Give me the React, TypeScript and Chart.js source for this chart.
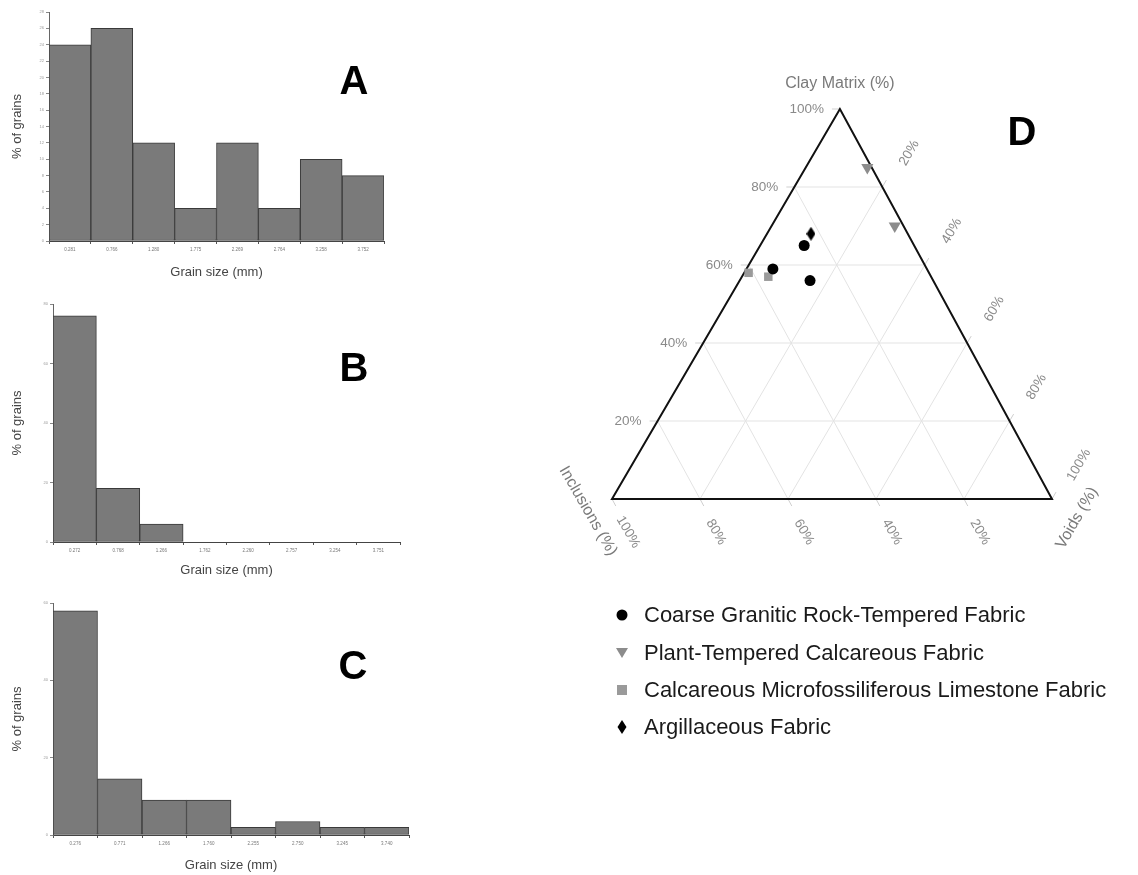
import React, { useEffect, useRef } from "react";
import { Chart, registerables } from "chart.js";

Chart.register(...registerables);
Chart.defaults.font.family = "'Liberation Sans', Arial, Helvetica, sans-serif";

// ---------- Histogram data ----------
const sizeLabelsA = ["0.281", "0.766", "1.280", "1.775", "2.269", "2.764", "3.258", "3.752"];
const percentA = [24, 26, 12, 4, 12, 4, 10, 8];

const sizeLabelsB = ["0.272", "0.768", "1.266", "1.762", "2.260", "2.757", "3.254", "3.751"];
const percentB = [76, 18, 6, 0, 0, 0, 0, 0];

const sizeLabelsC = ["0.276", "0.771", "1.266", "1.760", "2.255", "2.750", "3.245", "3.740"];
const percentC = [58, 14.5, 9, 9, 2, 3.5, 2, 2];

// ---------- Ternary data (Clay Matrix %, Inclusions %, Voids %) ----------
const graniticClay = [65, 59, 56];
const graniticInclusions = [25, 35, 28];
const graniticVoids = [10, 6, 16];

const plantClay = [85, 70];
const plantInclusions = [1, 2];
const plantVoids = [14, 28];

const calcareousClay = [57, 58];
const calcareousInclusions = [37, 41];
const calcareousVoids = [6, 1];

const argillaceousClay = [68];
const argillaceousInclusions = [22];
const argillaceousVoids = [10];

const gridLevels = [20, 40, 60, 80];
const tickLevels = [20, 40, 60, 80, 100];

const legendNames = [
  "Coarse Granitic Rock-Tempered Fabric",
  "Plant-Tempered Calcareous Fabric",
  "Calcareous Microfossiliferous Limestone Fabric",
  "Argillaceous Fabric",
];

const SKEW = 0.518; // horizontal position of the apex along the base

function toCart(c: number[], i: number[], v: number[]) {
  return c.map((cv, k) => {
    const s = cv + i[k] + v[k];
    const cc = (cv / s) * 100;
    const vv = (v[k] / s) * 100;
    return { x: vv + SKEW * cc, y: cc };
  });
}

function makeDiamond(w: number, h: number, color: string) {
  const cv = document.createElement("canvas");
  cv.width = w;
  cv.height = h;
  const g = cv.getContext("2d")!;
  g.fillStyle = color;
  g.beginPath();
  g.moveTo(w / 2, 0);
  g.lineTo(w, h / 2);
  g.lineTo(w / 2, h);
  g.lineTo(0, h / 2);
  g.closePath();
  g.fill();
  return cv;
}

type HistProps = {
  labels: string[];
  values: number[];
  yMax: number;
  yStep: number;
  letter: string;
  letterX: number;
  letterY: number;
  left: number;
  top: number;
  width: number;
  height: number;
  pad: { left: number; top: number; right: number; bottom: number };
  yAxisW: number;
  xAxisH: number;
};

function Histogram(p: HistProps) {
  const ref = useRef<HTMLCanvasElement>(null);
  useEffect(() => {
    const letterPlugin = {
      id: "letter",
      afterDraw(chart: any) {
        const ctx = chart.ctx;
        ctx.save();
        ctx.fillStyle = "#000";
        ctx.font = "bold 40px 'Liberation Sans', Arial, sans-serif";
        ctx.textAlign = "center";
        ctx.textBaseline = "middle";
        ctx.fillText(p.letter, p.letterX, p.letterY);
        ctx.restore();
      },
    };
    const chart = new Chart(ref.current!, {
      type: "bar",
      data: {
        labels: p.labels,
        datasets: [
          {
            data: p.values,
            backgroundColor: "#7a7a7a",
            borderColor: "#3a3a3a",
            borderWidth: 1,
            borderSkipped: false,
            categoryPercentage: 1,
            barPercentage: 1,
          },
        ],
      },
      options: {
        responsive: false,
        animation: false,
        layout: { padding: p.pad },
        plugins: { legend: { display: false }, tooltip: { enabled: false } },
        scales: {
          x: {
            grid: { display: true, drawOnChartArea: false, drawTicks: true, tickLength: 3, color: "#555", offset: true },
            border: { display: true, color: "#444", width: 1 },
            ticks: { font: { size: 4.5 }, color: "#777", padding: 3, maxRotation: 0, autoSkip: false },
            title: { display: true, text: "Grain size (mm)", font: { size: 13 }, color: "#444", padding: 0 },
            afterFit: (s: any) => {
              s.height = p.xAxisH;
            },
          },
          y: {
            min: 0,
            max: p.yMax,
            ticks: { stepSize: p.yStep, font: { size: 4 }, color: "#999", padding: 2 },
            grid: { drawOnChartArea: false, tickLength: 3, color: "#888" },
            border: { display: true, color: "#666", width: 1 },
            title: { display: true, text: "% of grains", font: { size: 13 }, color: "#444", padding: 0 },
            afterFit: (s: any) => {
              s.width = p.yAxisW;
            },
          },
        },
      },
      plugins: [letterPlugin],
    } as any);
    return () => chart.destroy();
  }, []);
  return (
    <canvas
      ref={ref}
      width={p.width}
      height={p.height}
      style={{ position: "absolute", left: p.left, top: p.top }}
    />
  );
}

function Ternary() {
  const ref = useRef<HTMLCanvasElement>(null);
  useEffect(() => {
    const diamondImg = makeDiamond(9, 14, "#000");
    const ternaryPlugin = {
      id: "ternary",
      beforeDatasetsDraw(chart: any) {
        const { ctx } = chart;
        const xs = chart.scales.x;
        const ys = chart.scales.y;
        const P = (c: number, v: number) => [xs.getPixelForValue(v + SKEW * c), ys.getPixelForValue(c)];
        const line = (a: number[], b: number[]) => {
          ctx.beginPath();
          ctx.moveTo(a[0], a[1]);
          ctx.lineTo(b[0], b[1]);
          ctx.stroke();
        };
        const BL = P(0, 0);
        const BR = P(0, 100);
        const T = P(100, 0);
        const norm = (d: number[]) => {
          const l = Math.hypot(d[0], d[1]);
          return [d[0] / l, d[1] / l];
        };
        const Ldir = norm([T[0] - BL[0], T[1] - BL[1]]);
        const Rdir = norm([T[0] - BR[0], T[1] - BR[1]]);

        ctx.save();
        ctx.strokeStyle = "#e3e3e3";
        ctx.lineWidth = 1;
        for (const t of gridLevels) {
          line(P(t, 0), P(t, 100 - t));
          line(P(0, 100 - t), P(100 - t, 0));
          line(P(0, t), P(100 - t, t));
        }
        // tick extensions
        ctx.strokeStyle = "#cfcfcf";
        const ext = 8;
        for (const t of tickLevels) {
          const a = P(t, 0);
          line(a, [a[0] - ext, a[1]]);
          const b = P(0, 100 - t);
          line(b, [b[0] - Rdir[0] * ext, b[1] - Rdir[1] * ext]);
          const r = P(100 - t, t);
          line(r, [r[0] + Ldir[0] * ext, r[1] + Ldir[1] * ext]);
        }
        // outline
        ctx.strokeStyle = "#111";
        ctx.lineWidth = 2;
        ctx.beginPath();
        ctx.moveTo(BL[0], BL[1]);
        ctx.lineTo(BR[0], BR[1]);
        ctx.lineTo(T[0], T[1]);
        ctx.closePath();
        ctx.stroke();

        // tick labels
        ctx.fillStyle = "#8a8a8a";
        ctx.font = "13.5px 'Liberation Sans', Arial, sans-serif";
        ctx.textBaseline = "middle";
        for (const t of tickLevels) {
          const a = P(t, 0);
          ctx.textAlign = "right";
          ctx.fillText(t + "%", a[0] - 16, a[1]);
          ctx.textAlign = "center";
          const b = P(0, 100 - t);
          ctx.save();
          ctx.translate(b[0] + 16, b[1] + 33);
          ctx.rotate(Math.PI / 3);
          ctx.fillText(t + "%", 0, 0);
          ctx.restore();
          const r = P(100 - t, t);
          ctx.save();
          ctx.translate(r[0] + 27, r[1] - 34);
          ctx.rotate(-Math.PI / 3);
          ctx.fillText(t + "%", 0, 0);
          ctx.restore();
        }
        // axis names
        ctx.fillStyle = "#7a7a7a";
        ctx.font = "16px 'Liberation Sans', Arial, sans-serif";
        ctx.textAlign = "center";
        ctx.fillText("Clay Matrix (%)", T[0], T[1] - 25);
        ctx.save();
        ctx.translate(BL[0] - 24, BL[1] + 12);
        ctx.rotate(Math.PI / 3);
        ctx.fillText("Inclusions (%)", 0, 0);
        ctx.restore();
        ctx.save();
        ctx.translate(BR[0] + 25, BR[1] + 19);
        ctx.rotate(-Math.PI / 3);
        ctx.fillText("Voids (%)", 0, 0);
        ctx.restore();

        // letter D
        ctx.fillStyle = "#000";
        ctx.font = "bold 40px 'Liberation Sans', Arial, sans-serif";
        ctx.fillText("D", T[0] + 182, T[1] + 25);
        ctx.restore();
      },
      afterDraw(chart: any) {
        const { ctx, chartArea } = chart;
        const mx = chartArea.left + 10;
        const tx = chartArea.left + 32;
        const rows = [116, 154, 191, 228].map((d) => chartArea.bottom + d);
        ctx.save();
        // circle
        ctx.fillStyle = "#000";
        ctx.beginPath();
        ctx.arc(mx, rows[0], 5.5, 0, Math.PI * 2);
        ctx.fill();
        // down triangle
        ctx.fillStyle = "#8c8c8c";
        ctx.beginPath();
        ctx.moveTo(mx - 6, rows[1] - 5);
        ctx.lineTo(mx + 6, rows[1] - 5);
        ctx.lineTo(mx, rows[1] + 5);
        ctx.closePath();
        ctx.fill();
        // square
        ctx.fillStyle = "#9a9a9a";
        ctx.fillRect(mx - 5, rows[2] - 5, 10, 10);
        // diamond
        ctx.fillStyle = "#000";
        ctx.beginPath();
        ctx.moveTo(mx, rows[3] - 7);
        ctx.lineTo(mx + 4.5, rows[3]);
        ctx.lineTo(mx, rows[3] + 7);
        ctx.lineTo(mx - 4.5, rows[3]);
        ctx.closePath();
        ctx.fill();
        ctx.fillStyle = "#1a1a1a";
        ctx.font = "22px 'Liberation Sans', Arial, sans-serif";
        ctx.textAlign = "left";
        ctx.textBaseline = "middle";
        legendNames.forEach((n, k) => ctx.fillText(n, tx, rows[k] + 1));
        ctx.restore();
      },
    };

    const chart = new Chart(ref.current!, {
      type: "scatter",
      data: {
        datasets: [
          {
            label: legendNames[0],
            data: toCart(graniticClay, graniticInclusions, graniticVoids),
            pointStyle: "circle",
            pointRadius: 5.5,
            backgroundColor: "#000",
            borderColor: "#000",
            borderWidth: 0,
          },
          {
            label: legendNames[1],
            data: toCart(plantClay, plantInclusions, plantVoids),
            pointStyle: "triangle",
            rotation: 180,
            pointRadius: 7,
            backgroundColor: "#8c8c8c",
            borderColor: "#8c8c8c",
            borderWidth: 0,
          },
          {
            label: legendNames[2],
            data: toCart(calcareousClay, calcareousInclusions, calcareousVoids),
            pointStyle: "rect",
            pointRadius: 6,
            backgroundColor: "#9a9a9a",
            borderColor: "#9a9a9a",
            borderWidth: 0,
          },
          {
            label: legendNames[3],
            data: toCart(argillaceousClay, argillaceousInclusions, argillaceousVoids),
            pointStyle: diamondImg,
            pointRadius: 7,
            backgroundColor: "#000",
            borderWidth: 0,
          },
        ],
      },
      options: {
        responsive: false,
        animation: false,
        layout: { padding: { left: 72, right: 86, top: 49, bottom: 261 } },
        plugins: { legend: { display: false }, tooltip: { enabled: false } },
        elements: { point: { hoverRadius: 0 } },
        scales: {
          x: { type: "linear", min: 0, max: 100, display: false },
          y: { type: "linear", min: 0, max: 100, display: false },
        },
        datasets: { scatter: { clip: false } } as any,
      },
      plugins: [ternaryPlugin],
    } as any);
    return () => chart.destroy();
  }, []);
  return (
    <canvas ref={ref} width={598} height={700} style={{ position: "absolute", left: 540, top: 60 }} />
  );
}

export default function App() {
  return (
    <div
      style={{
        position: "absolute",
        left: 0,
        top: 0,
        width: 1138,
        height: 875,
        background: "#fff",
        overflow: "hidden",
      }}
    >
      <Histogram
        labels={sizeLabelsA}
        values={percentA}
        yMax={28}
        yStep={2}
        letter="A"
        letterX={354}
        letterY={83}
        left={0}
        top={0}
        width={400}
        height={280}
        pad={{ left: 10, top: 12, right: 16, bottom: 0 }}
        yAxisW={39}
        xAxisH={39}
      />
      <Histogram
        labels={sizeLabelsB}
        values={percentB}
        yMax={80}
        yStep={20}
        letter="B"
        letterX={354}
        letterY={78}
        left={0}
        top={292}
        width={410}
        height={286}
        pad={{ left: 10, top: 12, right: 10, bottom: 0 }}
        yAxisW={43}
        xAxisH={36}
      />
      <Histogram
        labels={sizeLabelsC}
        values={percentC}
        yMax={60}
        yStep={20}
        letter="C"
        letterX={353}
        letterY={77}
        left={0}
        top={591}
        width={420}
        height={282}
        pad={{ left: 10, top: 12, right: 11, bottom: 0 }}
        yAxisW={43}
        xAxisH={38}
      />
      <Ternary />
    </div>
  );
}
